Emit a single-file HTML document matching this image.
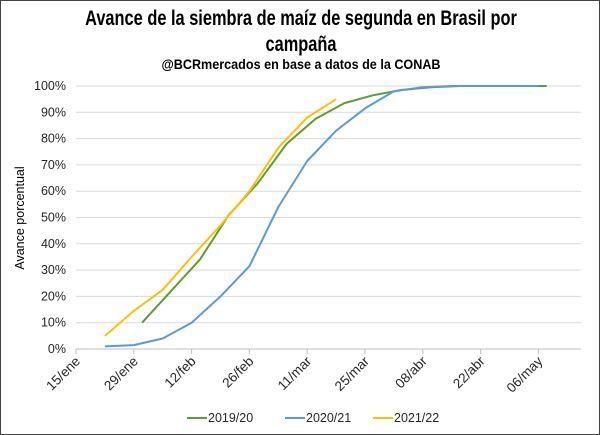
<!DOCTYPE html>
<html><head><meta charset="utf-8"><style>
body{margin:0;background:#fff;}
#wrap{position:relative;width:600px;height:435px;box-sizing:border-box;border:1px solid #444;background:#fff;font-family:"Liberation Sans",sans-serif;}
.title{position:absolute;left:0;width:600px;text-align:center;font-family:"Liberation Sans",sans-serif;font-weight:bold;color:#000;}
</style></head><body>
<div id="wrap">
<div class="title" style="top:5px;font-size:21px;line-height:26px;transform:scaleX(0.78);transform-origin:300px 0;">Avance de la siembra de maíz de segunda en Brasil por<br>campaña</div>
<div class="title" style="top:55px;font-size:14px;transform:scaleX(0.9);transform-origin:300px 0;">@BCRmercados en base a datos de la CONAB</div>
<svg id="chart" width="600" height="435" style="position:absolute;left:-1px;top:-1px"></svg>
</div>
<script>
const tickLabels=["15/ene","29/ene","12/feb","26/feb","11/mar","25/mar","08/abr","22/abr","06/may"];
const yTicks=[0,10,20,30,40,50,60,70,80,90,100];
const seriesNames=["2019/20","2020/21","2021/22"];
const seriesColors=["#5b9e35","#5b9bd5","#ffc000"];
const startDays=[16,7,7];
const green=[10,22,34,51,63,78,87.5,93.5,96.5,98.5,99.5,100,100,100,100];
const blue=[1,1.5,4,10,20,31.5,54,71.5,83,91.5,98,99.5,100,100,100,100];
const yellow=[5,14.5,22.5,35,47,60,76.5,88,95];
const seriesValues=[green,blue,yellow];

const NS="http://www.w3.org/2000/svg";
const svg=document.getElementById('chart');
const x0=76,pxPerDay=57.8/14,y0=349,y100=86;
const X=d=>x0+d*pxPerDay;
const Y=v=>y0-(v/100)*(y0-y100);
function mk(t,a){const e=document.createElementNS(NS,t);for(const k in a)e.setAttribute(k,a[k]);svg.appendChild(e);return e;}
yTicks.forEach(v=>{
  const l=mk('line',{x1:x0,x2:581,y1:Y(v),y2:Y(v),stroke:'#d9d9d9','stroke-width':1});
  
  
  const t=mk('text',{x:66,y:Y(v)+4,'text-anchor':'end','font-size':12.5,'font-family':'Liberation Sans, sans-serif',fill:'#262626'});
  t.textContent=v+'%';
  
  
});
const ax=mk('line',{x1:x0,x2:581,y1:y0,y2:y0,stroke:'#bfbfbf'});


tickLabels.forEach((s,i)=>{
  const x=X(i*14);
  const tk=mk('line',{x1:x,x2:x,y1:y0,y2:y0+5,stroke:'#bfbfbf'});
  
  
  const t=mk('text',{x:x+5,y:y0+13,'text-anchor':'end','font-size':13.5,'font-family':'Liberation Sans, sans-serif',fill:'#262626',transform:`rotate(-45 ${x+5} ${y0+13})`});
  t.textContent=s;
  
  
});
const yt=mk('text',{x:24,y:218,'text-anchor':'middle','font-size':12.5,'font-family':'Liberation Sans, sans-serif',fill:'#000',transform:'rotate(-90 24 218)'});
yt.textContent='Avance porcentual';


seriesValues.forEach((vals,si)=>{
  const pts=vals.map((v,i)=>X(startDays[si]+i*7).toFixed(1)+','+Y(v).toFixed(1)).join(' ');
  const p=mk('polyline',{points:pts,fill:'none',stroke:seriesColors[si],'stroke-width':2,'stroke-linejoin':'round'});
  
  
});
const lx=[187,285,373];
seriesNames.forEach((n,i)=>{
  const l=mk('line',{x1:lx[i],x2:lx[i]+20,y1:418,y2:418,stroke:seriesColors[i],'stroke-width':2});
  
  
  const t=mk('text',{x:lx[i]+21,y:422,'font-size':12.5,'font-family':'Liberation Sans, sans-serif',fill:'#262626'});
  t.textContent=n;
  
  
});
</script>
</body></html>
